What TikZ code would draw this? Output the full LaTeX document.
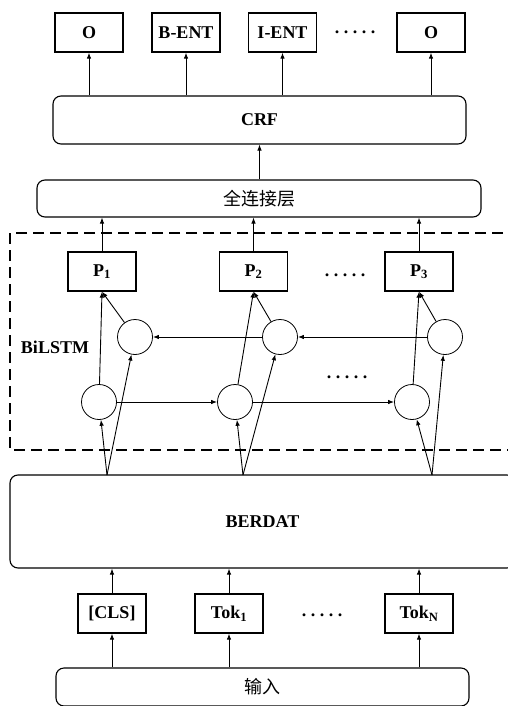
\documentclass[tikz,border=0pt]{standalone}
\usepackage{fontspec}
\setmainfont{Liberation Serif}
\newfontfamily\cjk{Noto Sans CJK SC}
\usetikzlibrary{arrows.meta}

\newcommand{\fivedots}{.\hspace{4.5pt}.\hspace{4.5pt}.\hspace{4.5pt}.\hspace{4.5pt}.}

\begin{document}
\begin{tikzpicture}[x=1pt, y=-1pt,
		tagbox/.style={draw, line width=1.3pt, minimum width=68pt, minimum height=39pt, font=\bfseries},
		layerbox/.style={draw, line width=1.1pt, rounded corners=8pt},
		cell/.style={draw, circle, line width=0.8pt, minimum size=35pt, inner sep=0pt},
		arr/.style={-{Latex[length=6pt,width=4.5pt]}, line width=0.9pt},
		dots/.style={font=\bfseries, inner sep=0pt}]
		\clip (0,0) rectangle (508,706);
		\fontsize{18}{21}\selectfont

		% output tags
		\node[tagbox] (o1) at (89,32.5) {O};
		\node[tagbox] (o2) at (186,32.5) {B-ENT};
		\node[tagbox] (o3) at (282.5,32.5) {I-ENT};
		\node[tagbox] (o4) at (431,32.5) {O};
		\node[dots] (od) at (355,32) {\fivedots};

		\node[layerbox, minimum width=413pt, minimum height=48pt, font=\bfseries] (crf) at (259.5,120) {CRF};
		\node[layerbox, minimum width=444pt, minimum height=37pt, font=\cjk] (fc) at (259,198.5) {全连接层};

		\foreach \i in {1,...,4}
			\draw[arr] (o\i.south |- crf.north) -- (o\i.south);
		\draw[arr] (crf.south |- fc.north) -- (crf.south);

		% BiLSTM
		\draw[dash pattern=on 11pt off 6pt, line width=1.1pt] (520,233) -- (10,233) -- (10,450) -- (520,450);
		\node[font=\bfseries] (lbl) at (55,347) {BiLSTM};

		\node[tagbox] (p1) at (102,271.5) {P\textsubscript{1}};
		\node[tagbox] (p2) at (253.5,271.5) {P\textsubscript{2}};
		\node[tagbox] (p3) at (419,271.5) {P\textsubscript{3}};
		\node[dots] (pd) at (345,275) {\fivedots};

		\node[cell] (b1) at (135,337) {};
		\node[cell] (b2) at (280,337) {};
		\node[cell] (b3) at (445,337) {};
		\node[cell] (f1) at (99,402) {};
		\node[cell] (f2) at (235,402) {};
		\node[cell] (f3) at (412,402) {};
		\node[dots] (cd) at (347,377) {\fivedots};

		\draw[arr] (b3) -- (b2);
		\draw[arr] (b2) -- (b1);
		\draw[arr] (f1) -- (f2);
		\draw[arr] (f2) -- (f3);

		\foreach \i in {1,2,3} {
			\draw[arr] (f\i) -- (p\i.south);
			\draw[arr] (b\i) -- (p\i.south);
			\draw[arr] (p\i.north) -- (p\i.north |- fc.south);
		}

		% BERT
		\node[layerbox, minimum width=505pt, minimum height=93pt, font=\bfseries] (bert) at (262.5,521.5) {BERDAT};
		\coordinate (s1) at (107,475);
		\coordinate (s2) at (243,475);
		\coordinate (s3) at (432,475);
		\foreach \i in {1,2,3} {
			\draw[arr] (s\i) -- (f\i);
			\draw[arr] (s\i) -- (b\i);
		}

		% input tokens
		\node[tagbox] (t1) at (112,613.5) {[CLS]};
		\node[tagbox] (t2) at (229,613.5) {Tok\textsubscript{1}};
		\node[tagbox] (t3) at (419,613.5) {Tok\textsubscript{N}};
		\node[dots] (td) at (322,615) {\fivedots};

		\node[layerbox, minimum width=413pt, minimum height=38pt, font=\cjk] (in) at (262.5,687) {输入};

		\foreach \i in {1,2,3} {
			\draw[arr] (t\i.south |- in.north) -- (t\i.south);
			\draw[arr] (t\i.north) -- (t\i.north |- bert.south);
		}
	\end{tikzpicture}
\end{document}
